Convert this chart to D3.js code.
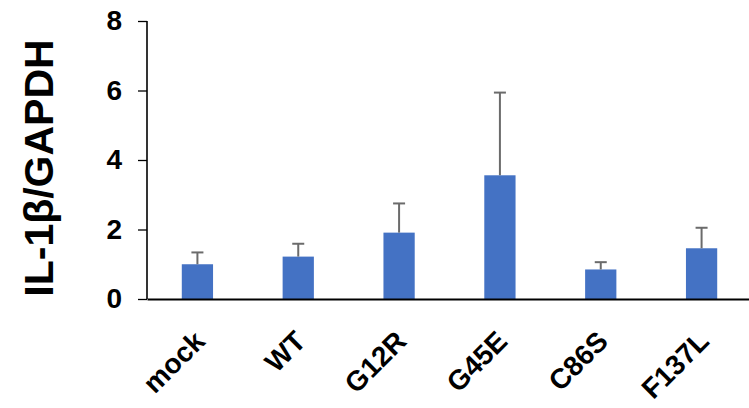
<!DOCTYPE html>
<html>
<head>
<meta charset="utf-8">
<script src="https://cdn.jsdelivr.net/npm/d3@7"></script>
<style>
  html, body { margin: 0; padding: 0; background: #fff; }
  svg { display: block; }
  text { font-family: "Liberation Sans", Arial, sans-serif; font-weight: bold; }
</style>
</head>
<body>
<svg id="chart" width="749" height="408"></svg>
<script>
// IL-1β expression normalised to GAPDH, mean and upper error per construct
const categories = ["mock", "WT", "G12R", "G45E", "C86S", "F137L"];
const means = [1.00, 1.22, 1.91, 3.56, 0.85, 1.46];
const errors = [0.34, 0.37, 0.84, 2.38, 0.21, 0.59];
const yTicks = [0, 2, 4, 6, 8];
const yLabel = "IL-1β/GAPDH";

const svg = d3.select("#chart");
const plotLeft = 147, plotRight = 752, plotTop = 21, plotBottom = 299;

const x = d3.scaleBand().domain(categories).range([plotLeft, plotRight]).paddingInner(0.69).paddingOuter(0.345);
const y = d3.scaleLinear().domain([0, 8]).range([plotBottom, plotTop]);

// bars
svg.append("g").selectAll("rect").data(categories).join("rect")
  .attr("x", d => x(d))
  .attr("y", (d, i) => y(means[i]))
  .attr("width", x.bandwidth())
  .attr("height", (d, i) => y(0) - y(means[i]))
  .attr("fill", "#4472C4");

// upper error bars
const eb = svg.append("g").attr("stroke", "#6b6b6b").attr("stroke-width", 2);
categories.forEach((c, i) => {
  const cx = x(c) + x.bandwidth() / 2;
  eb.append("line").attr("x1", cx).attr("x2", cx)
    .attr("y1", y(means[i])).attr("y2", y(means[i] + errors[i]));
  eb.append("line").attr("x1", cx - 6).attr("x2", cx + 6)
    .attr("y1", y(means[i] + errors[i])).attr("y2", y(means[i] + errors[i]));
});

// y axis
const yAxis = svg.append("g").attr("transform", `translate(${plotLeft},0)`)
  .call(d3.axisLeft(y).tickValues(yTicks).tickSize(9).tickPadding(16).tickFormat(d3.format("d")));
yAxis.select(".domain").attr("stroke", "#000").attr("stroke-width", 1.6).attr("d", `M0,${plotTop}V${plotBottom}`);
yAxis.selectAll(".tick line").attr("stroke", "#000").attr("stroke-width", 1.3);
yAxis.selectAll(".tick text").attr("fill", "#000")
  .style("font-size", "28px")
  .style("font-family", "'Liberation Sans', Arial, sans-serif").style("font-weight", "bold");

// x axis
const xAxis = svg.append("g").attr("transform", `translate(0,${plotBottom})`)
  .call(d3.axisBottom(x).tickSize(0).tickPadding(0));
xAxis.select(".domain").attr("stroke", "#000").attr("stroke-width", 2.2);
xAxis.selectAll(".tick text")
  .attr("fill", "#000")
  .style("font-size", "28px")
  .style("font-family", "'Liberation Sans', Arial, sans-serif").style("font-weight", "bold")
  .attr("text-anchor", "end")
  .attr("dy", 0)
  .attr("transform", "translate(9,44) rotate(-45)");

// y axis title
svg.append("text")
  .attr("transform", `translate(53,${(plotTop + plotBottom) / 2 + 8}) rotate(-90)`)
  .attr("text-anchor", "middle")
  .style("font-size", "41px")
  .attr("fill", "#000")
  .text(yLabel);
</script>
</body>
</html>
